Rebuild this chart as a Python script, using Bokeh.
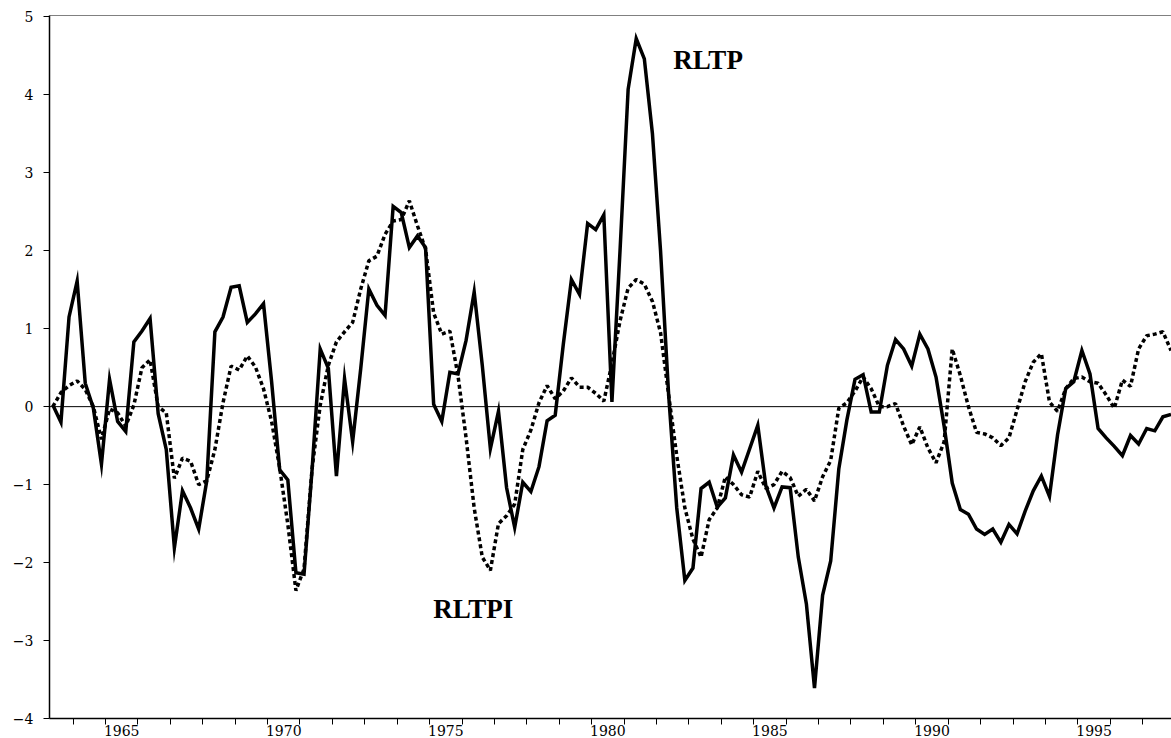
import pandas as pd
from bokeh.plotting import figure
from bokeh.models import Range1d, FixedTicker, LinearAxis, Span, Label
from bokeh.embed import file_html
from bokeh.resources import INLINE

# ---------------- data (quarterly, 1963Q2 - 1997Q4) ----------------
start_quarter = "1963Q2"
end_quarter = "1997Q4"

rltp = [
    0.02, -0.20, 1.15,                 # 1963 Q2-Q4
    1.61, 0.30, -0.02, -0.74,          # 1964
    0.35, -0.19, -0.32, 0.83,          # 1965
    0.97, 1.13, -0.09, -0.55,          # 1966
    -1.81, -1.08, -1.30, -1.57,        # 1967
    -0.95, 0.96, 1.15, 1.53,           # 1968
    1.55, 1.08, 1.19, 1.32,            # 1969
    0.32, -0.81, -0.94, -2.13,         # 1970
    -2.15, -0.80, 0.74, 0.49,          # 1971
    -0.89, 0.36, -0.45, 0.49,          # 1972
    1.51, 1.30, 1.17, 2.57,            # 1973
    2.49, 2.04, 2.19, 2.04,            # 1974
    0.03, -0.19, 0.44, 0.42,           # 1975
    0.85, 1.47, 0.53, -0.54,           # 1976
    -0.06, -1.04, -1.55, -0.97,        # 1977
    -1.09, -0.77, -0.18, -0.11,        # 1978
    0.80, 1.63, 1.44, 2.35,            # 1979
    2.27, 2.46, 0.06, 2.00,            # 1980
    4.07, 4.72, 4.46, 3.50,            # 1981
    2.00, 0.15, -1.30, -2.23,          # 1982
    -2.07, -1.05, -0.97, -1.29,        # 1983
    -1.17, -0.62, -0.84, -0.54,        # 1984
    -0.24, -1.02, -1.30, -1.03,        # 1985
    -1.04, -1.93, -2.53, -3.61,        # 1986
    -2.42, -1.98, -0.80, -0.17,        # 1987
    0.35, 0.41, -0.07, -0.07,          # 1988
    0.53, 0.86, 0.74, 0.52,            # 1989
    0.93, 0.74, 0.38, -0.25,           # 1990
    -0.98, -1.32, -1.38, -1.57,        # 1991
    -1.64, -1.57, -1.74, -1.51,        # 1992
    -1.63, -1.34, -1.08, -0.89,        # 1993
    -1.15, -0.36, 0.23, 0.32,          # 1994
    0.72, 0.42, -0.28, -0.40,          # 1995
    -0.51, -0.63, -0.37, -0.48,        # 1996
    -0.28, -0.31, -0.13, -0.10,        # 1997
]

rltpi = [
    0.00, 0.18, 0.27,                  # 1963 Q2-Q4
    0.33, 0.22, 0.00, -0.42,           # 1964
    -0.03, -0.08, -0.25, 0.02,         # 1965
    0.50, 0.60, 0.00, -0.08,           # 1966
    -0.92, -0.66, -0.70, -1.00,        # 1967
    -0.95, -0.55, 0.05, 0.52,          # 1968
    0.47, 0.65, 0.51, 0.23,            # 1969
    -0.19, -0.79, -1.51, -2.36,        # 1970
    -2.08, -0.79, 0.02, 0.53,          # 1971
    0.83, 0.96, 1.08, 1.51,            # 1972
    1.87, 1.93, 2.21, 2.38,            # 1973
    2.40, 2.64, 2.32, 2.02,            # 1974
    1.20, 0.93, 0.97, 0.40,            # 1975
    -0.40, -1.30, -1.93, -2.10,        # 1976
    -1.50, -1.40, -1.25, -0.55,        # 1977
    -0.30, 0.05, 0.27, 0.10,           # 1978
    0.20, 0.37, 0.25, 0.25,            # 1979
    0.17, 0.07, 0.55, 1.10,            # 1980
    1.52, 1.63, 1.57, 1.35,            # 1981
    0.95, 0.15, -0.63, -1.30,          # 1982
    -1.70, -1.93, -1.45, -1.30,        # 1983
    -0.90, -1.00, -1.13, -1.16,        # 1984
    -0.83, -1.05, -1.00, -0.83,        # 1985
    -0.91, -1.15, -1.06, -1.21,        # 1986
    -0.90, -0.69, -0.02, 0.05,         # 1987
    0.20, 0.38, 0.23, 0.00,            # 1988
    0.00, 0.04, -0.25, -0.49,          # 1989
    -0.26, -0.53, -0.72, -0.45,        # 1990
    0.74, 0.40, 0.00, -0.33,           # 1991
    -0.35, -0.40, -0.50, -0.40,        # 1992
    -0.04, 0.32, 0.57, 0.68,           # 1993
    0.06, -0.06, 0.23, 0.36,           # 1994
    0.38, 0.32, 0.30, 0.15,            # 1995
    -0.02, 0.34, 0.26, 0.74,           # 1996
    0.91, 0.93, 0.96, 0.72,            # 1997
]

year_ticks = list(range(1964, 1998))
label_years = [1965, 1970, 1975, 1980, 1985, 1990, 1995]
y_ticks = [-4, -3, -2, -1, 0, 1, 2, 3, 4, 5]

# ---------------- time axis ----------------
periods = pd.period_range(start_quarter, end_quarter, freq="Q")
x = [p.year + (p.quarter - 0.5) / 4.0 for p in periods]

TICK_FONT = "DejaVu Serif"
LABEL_FONT = "Liberation Serif"

p = figure(
    width=1171, height=738,
    output_backend="svg", toolbar_location=None,
    x_range=Range1d(1963.272, 1997.89),
    y_range=Range1d(-4.0, 5.017),
    min_border_left=49, min_border_right=0,
    min_border_top=15, min_border_bottom=0,
    background_fill_color="white", border_fill_color="white",
    outline_line_color=None,
)
p.xgrid.visible = False
p.ygrid.visible = False

# zero line
p.add_layout(Span(location=0, dimension="width", line_color="black", line_width=1))

# series
p.line(x, rltp, line_color="black", line_width=3.5, line_join="miter")
p.line(x, rltpi, line_color="black", line_width=3.5, line_dash="4 3")

# x axis: minor ticks at year boundaries, labels centred on the year
xaxis = p.xaxis[0]
xaxis.ticker = FixedTicker(ticks=[yr + 0.5 for yr in label_years], minor_ticks=year_ticks)
xaxis.major_label_overrides = {yr + 0.5: str(yr) for yr in label_years}
xaxis.major_tick_out = 0
xaxis.major_tick_in = 0
xaxis.minor_tick_out = 6
xaxis.minor_tick_in = 0
xaxis.minor_tick_line_color = "black"
xaxis.axis_line_color = "black"
xaxis.axis_line_width = 1.5
xaxis.major_label_standoff = 0
xaxis.major_label_text_font = TICK_FONT
xaxis.major_label_text_font_size = "14px"
xaxis.major_label_text_color = "black"

# y axis
yaxis = p.yaxis[0]
yaxis.ticker = FixedTicker(ticks=y_ticks, minor_ticks=[])
yaxis.major_label_overrides = {v: (("\u2212" + str(-v)) if v < 0 else str(v)) for v in y_ticks}
yaxis.major_tick_out = 6
yaxis.major_tick_in = 0
yaxis.major_tick_line_color = "black"
yaxis.axis_line_color = "black"
yaxis.axis_line_width = 1.5
yaxis.major_label_standoff = 10
yaxis.major_label_text_font = TICK_FONT
yaxis.major_label_text_font_size = "14px"
yaxis.major_label_text_color = "black"

# top frame line
top_axis = LinearAxis(
    ticker=FixedTicker(ticks=[]),
    axis_line_color="#808080", axis_line_width=1,
    major_tick_out=0, major_tick_in=0, minor_tick_out=0, minor_tick_in=0,
    major_label_text_font_size="0px", major_label_standoff=0,
)
p.add_layout(top_axis, "above")

# series labels
p.add_layout(Label(x=1982.52, y=4.45, text="RLTP", text_font=LABEL_FONT,
                   text_font_style="bold", text_font_size="27px",
                   text_color="black", text_baseline="alphabetic", text_align="left"))
p.add_layout(Label(x=1975.11, y=-2.59, text="RLTPI", text_font=LABEL_FONT,
                   text_font_style="bold", text_font_size="27px",
                   text_color="black", text_baseline="alphabetic", text_align="left"))

open("out.html", "w").write(file_html(p, INLINE))
